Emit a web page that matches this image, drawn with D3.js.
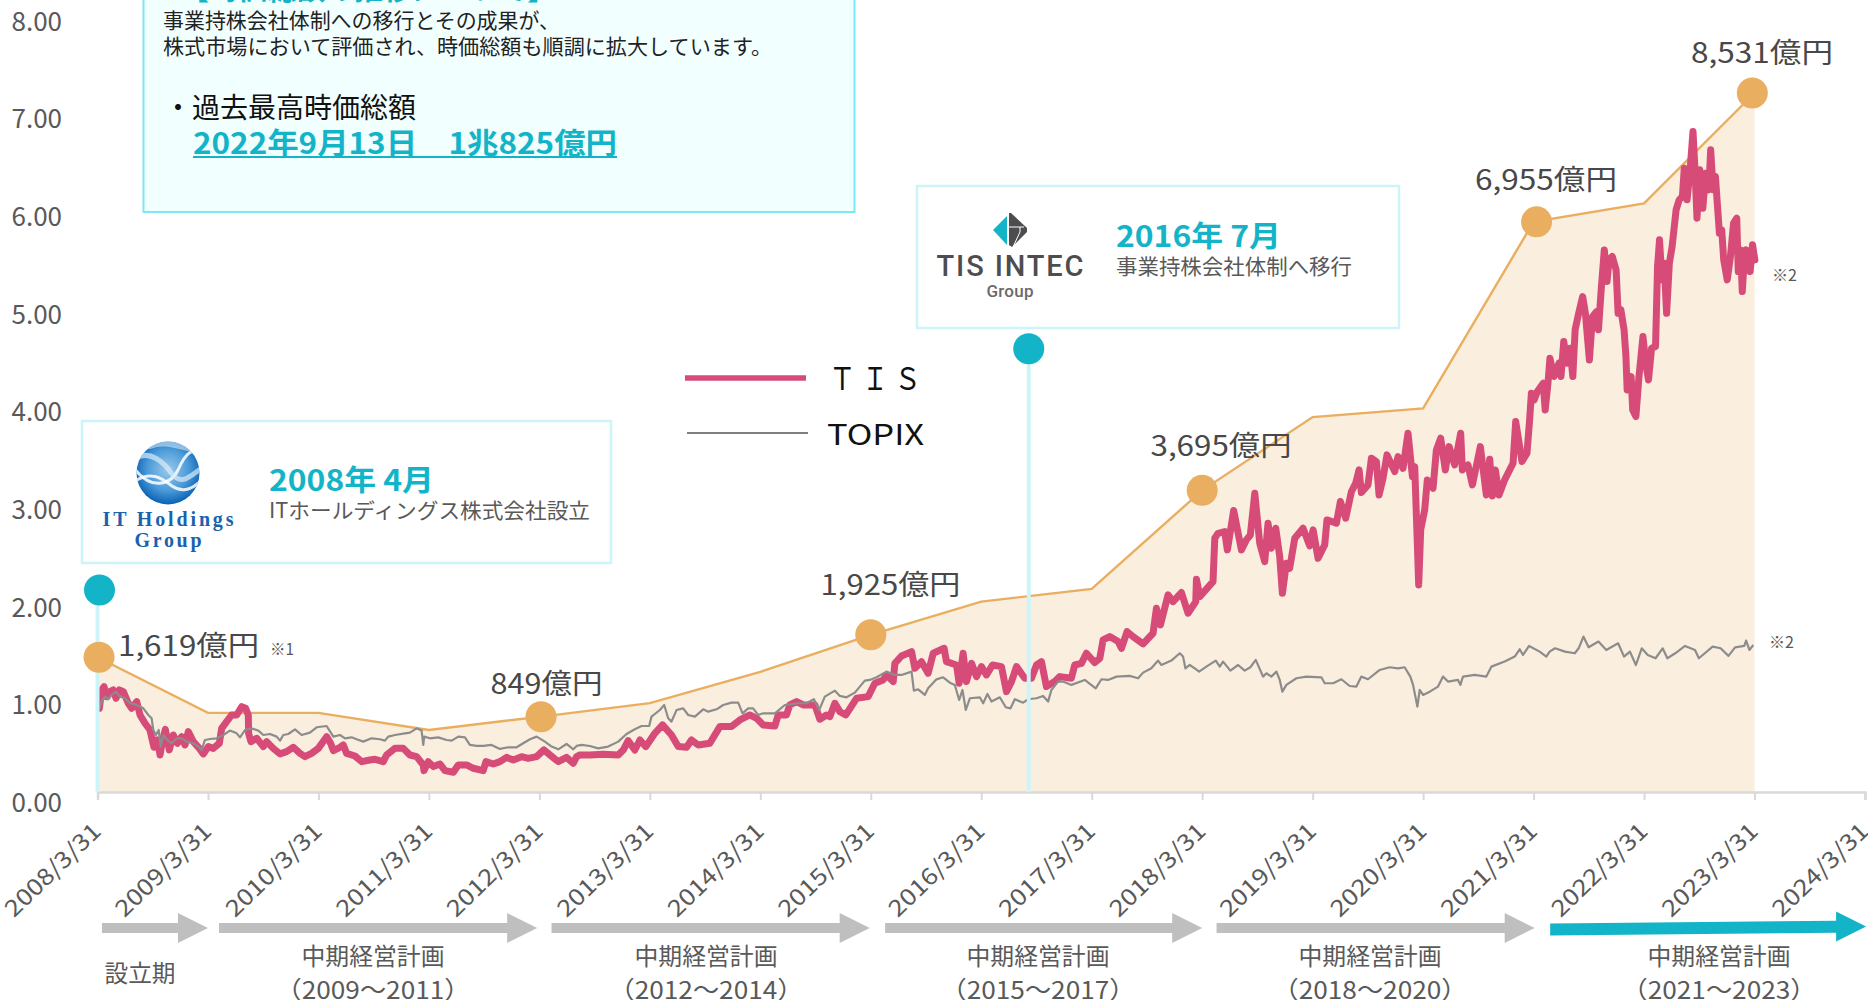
<!DOCTYPE html>
<html>
<head>
<meta charset="utf-8">
<script src="https://cdn.jsdelivr.net/npm/d3@7"></script>
<style>
  body { margin: 0; background: #fff; }
  svg { display: block; font-family: "Noto Sans CJK JP", "Noto Sans", sans-serif; }
</style>
</head>
<body>
<script>
// ----- DATA -----
// x positions are decimal years, 2008.25 being 2008/3/31
const tickYears = d3.range(2008.25, 2024.5, 1);
const tickLabels = ["2008/3/31","2009/3/31","2010/3/31","2011/3/31","2012/3/31","2013/3/31","2014/3/31","2015/3/31","2016/3/31","2017/3/31","2018/3/31","2019/3/31","2020/3/31","2021/3/31","2022/3/31","2023/3/31","2024/3/31"];
const yTicks = [0,1,2,3,4,5,6,7,8];

// market cap, index 2008 = 1,619
const capYears = [2008.25,2009.25,2010.25,2011.25,2012.25,2013.25,2014.25,2015.25,2016.25,2017.25,2018.25,2019.25,2020.25,2021.25,2022.25,2023.25];
const capValues = [1.38,0.81,0.81,0.635,0.77,0.91,1.23,1.61,1.95,2.08,3.09,3.84,3.93,5.84,6.03,7.16];
const capLabelYears = [2008.264,2012.265,2015.25,2018.25,2021.277,2023.23];
const capLabelValues = [1.38,0.77,1.61,3.09,5.84,7.16];

const tisYears = [
2008.267,2008.288,2008.309,2008.333,2008.363,2008.393,2008.418,2008.448,2008.484,2008.529,2008.559,2008.605,2008.635,2008.680,2008.725,2008.761,2008.792,2008.816,2008.840,2008.864,2008.900,2008.936,2008.973,
2009.012,2009.042,2009.072,2009.117,2009.172,2009.208,2009.253,2009.298,2009.353,2009.374,2009.419,2009.464,2009.510,2009.555,2009.591,2009.615,2009.618,2009.639,2009.691,2009.751,2009.781,2009.841,2009.902,2009.962,
2010.023,2010.083,2010.128,2010.188,2010.249,2010.324,2010.360,2010.385,2010.445,2010.475,2010.505,2010.581,2010.641,2010.716,2010.762,2010.837,2010.867,2010.943,
2011.018,2011.078,2011.139,2011.199,2011.205,2011.244,2011.290,2011.350,2011.395,2011.471,2011.516,2011.591,2011.652,2011.742,2011.766,2011.833,2011.893,2011.953,
2012.014,2012.089,2012.149,2012.225,2012.291,2012.346,2012.421,2012.496,2012.557,2012.587,2012.617,2012.707,2012.828,2012.964,
2013.009,2013.054,2013.114,2013.160,2013.214,2013.295,2013.365,2013.446,2013.507,2013.582,2013.627,2013.688,2013.793,2013.884,2013.989,
2014.065,2014.155,2014.216,2014.276,2014.382,2014.412,2014.487,2014.517,2014.578,2014.638,2014.744,2014.789,2014.849,2014.879,2014.925,2014.970,
2015.024,2015.121,2015.226,2015.287,2015.362,2015.392,2015.453,2015.468,2015.528,2015.619,2015.649,2015.709,2015.769,2015.815,2015.914,2015.935,
2016.026,2016.050,2016.086,2016.116,2016.162,2016.207,2016.252,2016.297,2016.352,2016.433,2016.478,2016.524,2016.569,2016.644,2016.705,2016.750,2016.795,2016.840,2016.915,2016.961,
2017.066,2017.096,2017.157,2017.202,2017.277,2017.323,2017.353,2017.413,2017.489,2017.519,2017.570,2017.624,2017.715,2017.805,2017.836,2017.872,2017.941,2017.986,
2018.062,2018.122,2018.192,2018.198,2018.228,2018.348,2018.364,2018.394,2018.454,2018.478,2018.535,2018.605,2018.650,2018.686,2018.726,2018.771,2018.816,2018.846,2018.876,2018.916,2018.952,2018.976,
2019.012,2019.042,2019.088,2019.163,2019.223,2019.254,2019.299,2019.359,2019.380,2019.465,2019.501,2019.549,2019.601,2019.640,2019.670,2019.691,2019.751,2019.782,2019.827,2019.851,2019.887,2019.923,2019.993,
2020.023,2020.068,2020.113,2020.153,2020.174,2020.210,2020.228,2020.264,2020.288,2020.340,2020.370,2020.409,2020.451,2020.485,2020.536,2020.590,2020.605,2020.656,2020.696,2020.768,2020.822,2020.853,2020.877,2020.904,2020.937,2020.988,
2021.064,2021.088,2021.145,2021.190,2021.214,2021.230,2021.255,2021.284,2021.337,2021.355,2021.380,2021.398,2021.434,2021.480,2021.498,2021.523,2021.551,2021.580,2021.605,2021.626,2021.658,2021.694,2021.719,2021.755,2021.783,2021.819,2021.837,2021.862,2021.890,2021.915,2021.933,2021.962,2021.997,
2022.015,2022.040,2022.069,2022.086,2022.097,2022.133,2022.147,2022.176,2022.204,2022.240,2022.265,2022.290,2022.318,2022.354,2022.372,2022.390,2022.411,2022.432,2022.454,2022.479,2022.504,2022.540,2022.568,2022.597,2022.614,2022.639,2022.668,2022.693,2022.711,2022.729,2022.754,2022.782,2022.807,2022.836,2022.853,2022.875,2022.896,2022.917,2022.932,2022.953,2022.971,
2023.003,2023.032,2023.060,2023.089,2023.103,2023.124,2023.139,2023.157,2023.174,2023.210,2023.232,2023.253];
const tisValues = [
.857,1.045,1.079,.977,1.028,1.045,.960,1.045,1.028,.909,.857,.926,.789,.704,.635,.458,.533,.379,.533,.642,.431,.584,.499,
.567,.482,.618,.516,.447,.390,.465,.447,.499,.652,.721,.789,.789,.874,.857,.789,.601,.516,.550,.465,.516,.447,.390,.413,
.458,.396,.362,.396,.447,.567,.499,.424,.458,.482,.396,.369,.311,.328,.335,.311,.379,.447,
.447,.379,.362,.277,.219,.311,.260,.287,.219,.202,.277,.277,.243,.219,.311,.287,.311,.355,
.328,.362,.345,.362,.431,.379,.311,.355,.294,.362,.379,.379,.386,.379,
.430,.526,.430,.533,.465,.601,.687,.584,.465,.458,.533,.482,.499,.670,.670,
.738,.789,.755,.687,.676,.789,.789,.892,.926,.892,.892,.745,.789,.772,.909,.823,
.789,.960,.977,1.114,1.148,1.199,1.131,1.318,1.393,1.438,1.267,1.335,1.216,1.421,1.472,1.335,
1.301,1.114,1.421,1.131,1.318,1.182,1.284,1.199,1.301,1.284,1.028,1.131,1.284,1.165,1.165,1.301,1.335,1.080,1.131,1.182,
1.165,1.301,1.318,1.421,1.325,1.370,1.558,1.592,1.541,1.472,1.643,1.592,1.517,1.626,1.882,1.711,2.019,1.950,
2.043,1.831,1.950,2.179,2.002,2.155,2.599,2.650,2.667,2.480,2.883,2.480,2.582,2.633,3.060,2.548,2.360,2.753,2.497,2.702,2.411,2.036,
2.343,2.292,2.599,2.702,2.521,2.685,2.394,2.531,2.787,2.753,2.975,2.804,3.077,3.163,3.299,3.067,3.146,3.419,3.385,3.043,3.214,3.453,3.282,
3.436,3.316,3.675,3.231,3.333,2.121,2.685,2.889,3.197,3.111,3.504,3.624,3.299,3.538,3.350,3.675,3.299,3.350,3.146,3.538,3.043,3.409,3.033,3.299,3.043,3.197,
3.368,3.794,3.385,3.470,3.812,4.085,4.016,4.102,4.187,3.914,4.187,4.443,4.256,4.392,4.256,4.614,4.392,4.546,4.256,4.734,4.904,5.075,4.904,4.426,4.870,4.921,4.734,5.144,5.553,5.229,5.451,5.485,5.348,
4.904,4.939,4.734,4.460,4.119,4.256,3.914,3.846,4.256,4.665,4.392,4.221,4.546,4.563,5.383,5.656,5.246,5.417,4.904,5.417,5.587,5.963,6.066,6.100,6.390,6.066,6.390,6.766,6.373,5.878,6.373,5.980,6.339,6.168,6.578,6.168,6.305,5.963,5.724,5.758,5.451,
5.246,5.485,5.826,5.878,5.331,5.553,5.126,5.451,5.553,5.331,5.605,5.451];

const topixYears = [
2008.267,2008.288,2008.318,2008.348,2008.378,2008.418,2008.454,2008.499,2008.544,2008.605,2008.665,2008.710,2008.740,2008.755,2008.779,2008.804,2008.822,2008.846,2008.882,2008.921,2008.967,
2009.012,2009.057,2009.117,2009.163,2009.193,2009.223,2009.268,2009.329,2009.389,2009.449,2009.510,2009.540,2009.585,2009.645,2009.706,2009.751,2009.811,2009.872,2009.902,2009.932,2009.977,
2010.038,2010.098,2010.173,2010.234,2010.324,2010.385,2010.445,2010.490,2010.550,2010.596,2010.656,2010.731,2010.807,2010.852,2010.882,2010.943,
2011.033,2011.078,2011.139,2011.184,2011.199,2011.208,2011.259,2011.335,2011.410,2011.456,2011.516,2011.576,2011.621,2011.682,2011.742,2011.817,2011.893,2011.968,
2012.044,2012.104,2012.165,2012.225,2012.300,2012.361,2012.421,2012.496,2012.557,2012.587,2012.632,2012.707,2012.783,2012.873,2012.964,
2013.039,2013.114,2013.175,2013.244,2013.265,2013.341,2013.380,2013.416,2013.446,2013.492,2013.552,2013.597,2013.658,2013.733,2013.778,2013.854,2013.914,2013.989,
2014.050,2014.089,2014.140,2014.185,2014.231,2014.276,2014.382,2014.472,2014.593,2014.668,2014.735,2014.783,2014.834,2014.925,2014.970,
2015.030,2015.106,2015.196,2015.241,2015.302,2015.392,2015.468,2015.528,2015.619,2015.640,2015.679,2015.739,2015.769,2015.845,2015.905,2015.966,
2016.011,2016.050,2016.080,2016.110,2016.147,2016.237,2016.267,2016.306,2016.343,2016.418,2016.472,2016.515,2016.554,2016.629,2016.675,2016.750,2016.810,2016.855,2016.885,2016.945,2016.991,
2017.066,2017.187,2017.286,2017.338,2017.398,2017.474,2017.594,2017.670,2017.715,2017.790,2017.851,2017.881,2017.971,
2018.047,2018.077,2018.098,2018.137,2018.183,2018.222,2018.288,2018.373,2018.409,2018.439,2018.505,2018.575,2018.635,2018.686,2018.735,2018.801,2018.831,2018.876,2018.922,2018.952,2018.976,
2019.012,2019.103,2019.193,2019.329,2019.359,2019.435,2019.510,2019.585,2019.646,2019.691,2019.751,2019.857,2019.947,
2020.023,2020.083,2020.134,2020.159,2020.198,2020.219,2020.249,2020.310,2020.385,2020.430,2020.475,2020.566,2020.587,2020.611,2020.717,2020.822,2020.868,2020.988,
2021.079,2021.124,2021.154,2021.209,2021.305,2021.365,2021.395,2021.444,2021.534,2021.623,2021.658,2021.701,2021.748,2021.837,2021.908,
2022.015,2022.069,2022.122,2022.176,2022.229,2022.283,2022.354,2022.418,2022.461,2022.532,2022.621,2022.711,2022.746,2022.871,2022.943,
2023.014,2023.074,2023.157,2023.174,2023.203,2023.239];
const topixValues = [
.857,.926,.977,.950,.994,1.028,.977,.960,.909,.892,.857,.789,.755,.635,.584,.635,.465,.584,.533,.499,.550,
.550,.516,.499,.465,.431,.533,.543,.550,.584,.629,.601,.560,.635,.652,.629,.584,.594,.567,.526,.584,.594,
.642,.584,.608,.663,.676,.567,.584,.550,.560,.540,.516,.550,.540,.526,.567,.584,
.601,.608,.652,.629,.482,.567,.550,.560,.533,.526,.567,.560,.482,.472,.472,.482,.441,.458,
.458,.499,.540,.567,.516,.465,.437,.492,.437,.472,.482,.471,.447,.465,.516,
.594,.642,.676,.676,.772,.840,.891,.755,.721,.840,.857,.789,.772,.847,.823,.847,.891,.915,
.915,.806,.857,.857,.789,.806,.806,.891,.909,.909,.950,.840,.977,1.038,.984,
.970,1.018,1.141,1.148,1.175,1.233,1.199,1.199,1.233,1.038,1.052,.994,1.062,1.154,1.175,1.120,
1.096,.943,1.045,.840,.960,.970,.909,1.004,.926,.970,.868,.857,.950,.915,.950,.960,.984,.926,1.045,1.131,1.131,
1.097,1.148,1.062,1.155,1.148,1.182,1.189,1.165,1.223,1.267,1.346,1.301,1.346,
1.421,1.387,1.267,1.301,1.267,1.233,1.284,1.346,1.284,1.336,1.243,1.301,1.243,1.278,1.353,1.182,1.216,1.182,1.233,1.148,1.028,
1.097,1.165,1.182,1.175,1.114,1.114,1.155,1.086,1.080,1.182,1.155,1.250,1.278,
1.267,1.278,1.182,1.097,.875,1.045,.994,1.028,1.080,1.182,1.131,1.148,1.097,1.182,1.199,1.182,1.284,1.336,
1.387,1.462,1.404,1.496,1.438,1.387,1.438,1.472,1.438,1.421,1.472,1.592,1.482,1.541,1.455,
1.523,1.387,1.438,1.301,1.472,1.404,1.370,1.472,1.370,1.421,1.496,1.455,1.370,1.489,1.472,
1.394,1.482,1.496,1.551,1.455,1.506];

// callouts and plan periods
const eventYears = [2008.25, 2016.68];
const eventValues = [2.07, 4.54];
const capTexts = ["1,619億円","849億円","1,925億円","3,695億円","6,955億円","8,531億円"];
const planNames = ["設立期","中期経営計画","中期経営計画","中期経営計画","中期経営計画","中期経営計画"];
const planSpans = ["","（2009～2011）","（2012～2014）","（2015～2017）","（2018～2020）","（2021～2023）"];
const planStart = [2008.29,2009.35,2012.36,2015.38,2018.38,2021.40];
const planEnd = [2009.25,2012.23,2015.24,2018.25,2021.26,2024.26];

// ----- COLORS -----
const TIS_COLOR = "#d64b78";
const TOPIX_COLOR = "#8c8c8c";
const CAP_COLOR = "#e9ae5f";
const AREA_COLOR = "#faeede";
const TEAL = "#14b4c8";
const PALE = "#cdf5f9";
const TEXT_COLOR = "#595959";
const DARK = "#484848";

// ----- SVG -----
const svg = d3.select("body").append("svg").attr("width", 1868).attr("height", 1000);

const x = d3.scaleLinear().domain([2008.25, 2024.25]).range([97.5, 1865]);
const y = d3.scaleLinear().domain([0, 8]).range([792, 11]);

function txt(px, py, s, size, fill, opts) {
  opts = opts || {};
  const t = svg.append("text").
  attr("x", px).attr("y", py - 2).
  attr("dominant-baseline", "central").
  attr("font-size", size).
  attr("fill", fill).
  text(s);
  if (opts.anchor) t.attr("text-anchor", opts.anchor);
  if (opts.bold) t.attr("font-weight", 700);
  if (opts.family) t.attr("font-family", opts.family);
  if (opts.w) t.attr("textLength", opts.w).attr("lengthAdjust", opts.adjust || "spacingAndGlyphs");
  return t;
}

// ----- TOP BOX -----
svg.append("rect").attr("x", 143.5).attr("y", -40).attr("width", 711).attr("height", 252).
attr("fill", "#f2ffff").attr("stroke", "#7ce8f2").attr("stroke-width", 2);
txt(180, -11.5, "【時価総額の推移について】", 29, TEAL, { bold: true });
txt(163, 21, "事業持株会社体制への移行とその成果が、", 21, "#222", { w: 397 });
txt(163, 47, "株式市場において評価され、時価総額も順調に拡大しています。", 21, "#222", { w: 609 });
txt(164, 108, "・過去最高時価総額", 28, "#111", { w: 252 });
txt(193, 143, "2022年9月13日　1兆825億円", 29, TEAL, { bold: true, w: 424 });
svg.append("line").attr("x1", 193).attr("x2", 617).attr("y1", 157).attr("y2", 157).
attr("stroke", TEAL).attr("stroke-width", 2);

// ----- AREA + MARKET CAP LINE -----
const capPoints = capYears.map((d, i) => [d, capValues[i]]);
svg.append("path").datum(capPoints).
attr("fill", AREA_COLOR).
attr("d", d3.area().x(d => x(d[0])).y0(y(0)).y1(d => y(d[1])));
svg.append("path").datum(capPoints).
attr("fill", "none").attr("stroke", CAP_COLOR).attr("stroke-width", 2.4).
attr("d", d3.line().x(d => x(d[0])).y(d => y(d[1])));

// ----- AXES -----
const xAxis = d3.axisBottom(x).tickValues(tickYears).tickSize(8).tickFormat((d, i) => tickLabels[i]);
const gx = svg.append("g").attr("transform", "translate(0,792)").call(xAxis);
gx.select(".domain").attr("stroke", "#d9d9d9").attr("stroke-width", 2.5);
gx.selectAll(".tick line").attr("stroke", "#d9d9d9").attr("stroke-width", 2);
gx.selectAll(".tick text").
attr("x", 0).attr("y", 0).attr("dy", "0.35em").
attr("transform", "translate(-1,35) rotate(-44)").
attr("text-anchor", "end").
attr("textLength", 123).attr("lengthAdjust", "spacingAndGlyphs").
attr("font-family", "\"Noto Sans CJK JP\"").
attr("font-size", 23).attr("fill", TEXT_COLOR);

// tick labels sit about 11px under their true height in the reference
const yAxis = d3.axisLeft(y).tickValues(yTicks).tickSize(0).tickPadding(0).tickFormat(d3.format(".2f"));
const gy = svg.append("g").attr("transform", "translate(62,11)").call(yAxis);
gy.select(".domain").remove();
gy.selectAll(".tick text").
attr("font-family", "\"Noto Sans CJK JP\"").
attr("font-size", 26).attr("fill", TEXT_COLOR);

// ----- PRICE LINES -----
const lineGen = d3.line().x(d => x(d[0])).y(d => y(d[1]));
svg.append("path").datum(tisYears.map((d, i) => [d, tisValues[i]])).
attr("fill", "none").attr("stroke", TIS_COLOR).attr("stroke-width", 7).
attr("stroke-linejoin", "round").attr("stroke-linecap", "round").
attr("d", lineGen);
svg.append("path").datum(topixYears.map((d, i) => [d, topixValues[i]])).
attr("fill", "none").attr("stroke", TOPIX_COLOR).attr("stroke-width", 2.2).
attr("stroke-linejoin", "round").
attr("d", lineGen);

// ----- EVENT PINS -----
svg.selectAll(".pin").data(eventYears).enter().append("line").
attr("class", "pin").
attr("x1", d => x(d)).attr("x2", d => x(d)).
attr("y1", (d, i) => y(eventValues[i])).attr("y2", y(0)).
attr("stroke", PALE).attr("stroke-width", 4);
svg.selectAll(".pinhead").data(eventYears).enter().append("circle").
attr("class", "pinhead").
attr("cx", (d, i) => x(d) + (i === 0 ? 2 : 0)).
attr("cy", (d, i) => y(eventValues[i])).
attr("r", 15.5).attr("fill", TEAL);

// ----- MARKET CAP MARKERS -----
svg.selectAll(".cap").data(capLabelYears).enter().append("circle").
attr("class", "cap").
attr("cx", d => x(d)).
attr("cy", (d, i) => y(capLabelValues[i])).
attr("r", 15.5).attr("fill", CAP_COLOR);

const capTextX = [118, 490.5, 820.5, 1150.5, 1475, 1691];
const capTextY = [646, 684, 585, 446, 180, 53];
const capTextW = [141, 112, 140, 141, 142, 142];
capTexts.forEach((s, i) => txt(capTextX[i], capTextY[i], s, 28, DARK, { w: capTextW[i] }));
txt(270, 650, "※1", 16, TEXT_COLOR, { w: 24 });
txt(1772, 276, "※2", 16, TEXT_COLOR, { w: 25 });
txt(1769, 643, "※2", 16, TEXT_COLOR, { w: 25 });

// ----- IT HOLDINGS BOX -----
svg.append("rect").attr("x", 82).attr("y", 421).attr("width", 529).attr("height", 142).
attr("fill", "#fff").attr("stroke", PALE).attr("stroke-width", 2.5);

const defs = svg.append("defs");
const ball = defs.append("radialGradient").attr("id", "ball").attr("cx", "50%").attr("cy", "45%").attr("r", "55%");
ball.append("stop").attr("offset", "0%").attr("stop-color", "#9cc9ea");
ball.append("stop").attr("offset", "60%").attr("stop-color", "#4b9ad8");
ball.append("stop").attr("offset", "100%").attr("stop-color", "#0a62b4");
defs.append("clipPath").attr("id", "ballClip").append("circle").attr("cx", 168).attr("cy", 473).attr("r", 31.5);

svg.append("circle").attr("cx", 168).attr("cy", 473).attr("r", 31.5).attr("fill", "url(#ball)");
const waves = svg.append("g").attr("clip-path", "url(#ballClip)").attr("fill", "none").attr("stroke-linecap", "round");
waves.append("path").attr("d", "M134 468 C150 490 170 486 178 470 C186 452 192 448 204 452").attr("stroke", "#fff").attr("stroke-width", 3).attr("opacity", 0.85);
waves.append("path").attr("d", "M134 482 C150 470 162 478 172 486 C184 494 194 488 204 478").attr("stroke", "#fff").attr("stroke-width", 3).attr("opacity", 0.85);
waves.append("path").attr("d", "M136 458 C150 450 164 462 172 474 C182 486 190 476 202 468").attr("stroke", "#d8ecfa").attr("stroke-width", 5).attr("opacity", 0.7);
waves.append("path").attr("d", "M150 446 C164 440 176 446 196 450").attr("stroke", "#cfe6f8").attr("stroke-width", 6).attr("opacity", 0.6);
txt(168, 521, "IT Holdings", 20, "#1a62ad", { anchor: "middle", family: "\"Liberation Serif\"", w: 131, adjust: "spacing" }).attr("font-weight", 700);
txt(168, 542, "Group", 20, "#1a62ad", { anchor: "middle", family: "\"Liberation Serif\"", w: 67, adjust: "spacing" }).attr("font-weight", 700);
txt(269, 480, "2008年 4月", 29, TEAL, { bold: true, w: 165 });
txt(269, 511, "ITホールディングス株式会社設立", 21, TEXT_COLOR, { w: 321 });

// ----- TIS INTEC BOX -----
svg.append("rect").attr("x", 917).attr("y", 186).attr("width", 482).attr("height", 142).
attr("fill", "#fff").attr("stroke", PALE).attr("stroke-width", 2.5);
const logo = svg.append("g").attr("transform", "translate(1010,230)");
logo.append("path").attr("d", "M-3 -14 L-17 0 L-3 15 Z").attr("fill", TEAL);
logo.append("path").attr("d", "M-1 -17 L1 -17 L17 -2 L17 2 L2 17 L-1 15 Z").attr("fill", "#4d4d4f");
logo.append("path").attr("d", "M-1 -3 L14 -3 M10 -3 L10 2 L3 17").attr("fill", "none").attr("stroke", "#fff").attr("stroke-width", 1);
txt(1010, 268, "TIS INTEC", 29, "#4d4d4f", { anchor: "middle", family: "\"Roboto\"", w: 147, adjust: "spacing" }).attr("font-weight", 500);
txt(1010, 293, "Group", 17, "#6a6a6a", { anchor: "middle", family: "\"Roboto\"", w: 47, adjust: "spacing" }).attr("font-weight", 500);
txt(1116, 236, "2016年 7月", 29, TEAL, { bold: true, w: 165 });
txt(1116, 267, "事業持株会社体制へ移行", 21, TEXT_COLOR, { w: 236 });

// ----- LEGEND -----
svg.append("line").attr("x1", 685).attr("x2", 806).attr("y1", 378).attr("y2", 378).
attr("stroke", TIS_COLOR).attr("stroke-width", 5.5);
svg.append("line").attr("x1", 687).attr("x2", 808).attr("y1", 433).attr("y2", 433).
attr("stroke", "#555").attr("stroke-width", 1.5);
txt(829, 378, "Ｔ Ｉ Ｓ", 31, "#111", { w: 92 });
txt(827, 434, "TOPIX", 29, "#111", { w: 97 });

// ----- PLAN ARROWS -----
function arrowPath(a, b, cy0, cy1, half, headHalf) {
  const head = 30;
  const mid = cy0 + (cy1 - cy0) * (b - head - a) / (b - a);
  return "M" + a + " " + (cy0 - half) + "L" + (b - head) + " " + (mid - half) +
  "L" + (b - head) + " " + (cy1 - headHalf) + "L" + b + " " + cy1 +
  "L" + (b - head) + " " + (cy1 + headHalf) + "L" + (b - head) + " " + (mid + half) +
  "L" + a + " " + (cy0 + half) + "Z";
}
svg.selectAll(".arrow").data(planStart).enter().append("path").
attr("class", "arrow").
attr("fill", (d, i) => i === 5 ? TEAL : "#bfbfbf").
attr("d", (d, i) => i === 5 ?
arrowPath(x(d), x(planEnd[i]), 929.5, 926.5, 6, 15) :
arrowPath(x(d), x(planEnd[i]), 928, 928, 5, 15));

const planCenter = [140, 373, 706, 1038, 1370, 1719];
planNames.forEach((s, i) => {
  if (i === 0) {
    txt(planCenter[i], 974, s, 23.5, TEXT_COLOR, { anchor: "middle", w: 71 });
  } else {
    txt(planCenter[i], 957, s, 23.5, TEXT_COLOR, { anchor: "middle", w: 143 });
    txt(planCenter[i], 990, planSpans[i], 24.5, TEXT_COLOR, { anchor: "middle", w: 195 });
  }
});
</script>
</body>
</html>
